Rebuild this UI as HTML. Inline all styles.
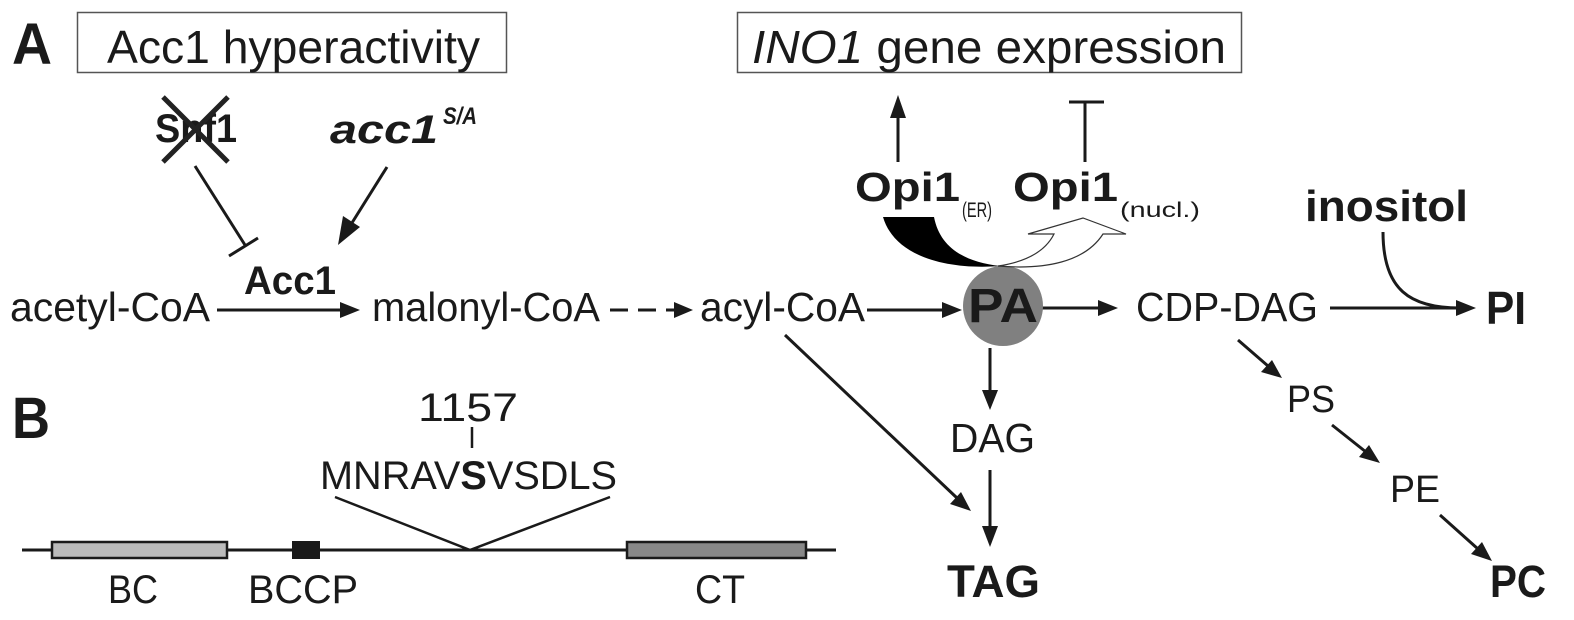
<!DOCTYPE html>
<html><head><meta charset="utf-8"><style>
html,body{margin:0;padding:0;background:#fff;}
svg{display:block;}
text{font-family:"Liberation Sans",Arial,sans-serif;fill:#1a1a1a;}
</style></head><body>
<svg width="1574" height="620" viewBox="0 0 1574 620" xmlns="http://www.w3.org/2000/svg">
<g stroke="#1a1a1a" stroke-width="3" fill="none">
<rect x="77.5" y="12.5" width="429" height="60" stroke="#555" stroke-width="1.5" fill="#fff"/>
<rect x="737.5" y="12.5" width="504" height="60" stroke="#555" stroke-width="1.5" fill="#fff"/>
</g>
<text x="12" y="64" font-size="58" font-weight="bold" textLength="40" lengthAdjust="spacingAndGlyphs">A</text>
<text x="12" y="438" font-size="58" font-weight="bold" textLength="38" lengthAdjust="spacingAndGlyphs">B</text>
<text x="107" y="63" font-size="46" textLength="373" lengthAdjust="spacingAndGlyphs">Acc1 hyperactivity</text>
<text x="752" y="63" font-size="46" textLength="474" lengthAdjust="spacingAndGlyphs"><tspan font-style="italic">INO1</tspan> gene expression</text>

<text x="155" y="142" font-size="40" font-weight="bold" textLength="82" lengthAdjust="spacingAndGlyphs">Snf1</text>
<g stroke="#222" stroke-width="5">
<line x1="163" y1="97" x2="228" y2="162"/><line x1="228" y1="97" x2="163" y2="162"/>
</g>
<text x="330" y="143" font-size="40" font-weight="bold" font-style="italic" textLength="108" lengthAdjust="spacingAndGlyphs">acc1</text>
<text x="443" y="124" font-size="24" font-weight="bold" font-style="italic" textLength="34" lengthAdjust="spacingAndGlyphs">S/A</text>
<g stroke="#1a1a1a" stroke-width="3" fill="#1a1a1a">
<line x1="195" y1="166" x2="245" y2="245" fill="none"/>
<line x1="229" y1="256" x2="258" y2="238"/>
<line x1="387" y1="167" x2="350" y2="226"/>
<polygon points="338,245 343,216 360,227" stroke="none"/>
</g>
<text x="244" y="294" font-size="40" font-weight="bold" textLength="92" lengthAdjust="spacingAndGlyphs">Acc1</text>

<text x="10" y="321" font-size="41" textLength="200" lengthAdjust="spacingAndGlyphs">acetyl-CoA</text>
<text x="372" y="321" font-size="41" textLength="228" lengthAdjust="spacingAndGlyphs">malonyl-CoA</text>
<text x="700" y="321" font-size="41" textLength="165" lengthAdjust="spacingAndGlyphs">acyl-CoA</text>
<text x="1136" y="321" font-size="41" textLength="182" lengthAdjust="spacingAndGlyphs">CDP-DAG</text>
<text x="1486" y="324" font-size="46" font-weight="bold" textLength="40" lengthAdjust="spacingAndGlyphs">PI</text>
<text x="1305" y="221" font-size="44" font-weight="bold" textLength="163" lengthAdjust="spacingAndGlyphs">inositol</text>

<g stroke="#1a1a1a" stroke-width="3" fill="#1a1a1a">
<line x1="217" y1="310" x2="342" y2="310"/><polygon points="360,310 340,302 340,318" stroke="none"/>
<line x1="610" y1="310" x2="675" y2="310" stroke-dasharray="18,10"/><polygon points="693,310 674,302 674,318" stroke="none"/>
<line x1="867" y1="310" x2="944" y2="310"/><polygon points="962,310 942,302 942,318" stroke="none"/>
<line x1="1036" y1="308" x2="1100" y2="308"/><polygon points="1118,308 1098,300 1098,316" stroke="none"/>
<line x1="1330" y1="308" x2="1458" y2="308"/><polygon points="1476,308 1456,300 1456,316" stroke="none"/>
<path d="M1383,232 C1383,290 1410,308 1460,308" fill="none"/>
</g>

<circle cx="1003" cy="306" r="40" fill="#808080"/>
<text x="1003" y="322" font-size="48" font-weight="bold" text-anchor="middle" textLength="70" lengthAdjust="spacingAndGlyphs">PA</text>

<text x="855" y="201" font-size="41" font-weight="bold" textLength="105" lengthAdjust="spacingAndGlyphs">Opi1</text>
<text x="962" y="217" font-size="21" textLength="30" lengthAdjust="spacingAndGlyphs">(ER)</text>
<text x="1013" y="201" font-size="41" font-weight="bold" textLength="105" lengthAdjust="spacingAndGlyphs">Opi1</text>
<text x="1120" y="217" font-size="21" textLength="80" lengthAdjust="spacingAndGlyphs">(nucl.)</text>
<g stroke="#1a1a1a" stroke-width="3" fill="#1a1a1a">
<line x1="898" y1="162" x2="898" y2="116"/><polygon points="898,95 890,118 906,118" stroke="none"/>
<line x1="1085" y1="162" x2="1085" y2="102"/><line x1="1069" y1="102" x2="1104" y2="102"/>
</g>
<path d="M883,217 L934,217 C940,248 965,262 1000,266 C950,270 895,258 883,217 Z" fill="#000"/>
<path d="M998,266 C1025,262 1045,252 1054,234 L1028,234 L1083,218 L1126,234 L1103,234 C1085,262 1045,270 998,266 Z" fill="#fff" stroke="#333" stroke-width="1.2"/>

<text x="950" y="452" font-size="41" textLength="85" lengthAdjust="spacingAndGlyphs">DAG</text>
<text x="947" y="597" font-size="45" font-weight="bold" textLength="93" lengthAdjust="spacingAndGlyphs">TAG</text>
<text x="1287" y="412" font-size="38" textLength="48" lengthAdjust="spacingAndGlyphs">PS</text>
<text x="1390" y="502" font-size="38" textLength="50" lengthAdjust="spacingAndGlyphs">PE</text>
<text x="1490" y="597" font-size="45" font-weight="bold" textLength="56" lengthAdjust="spacingAndGlyphs">PC</text>
<g stroke="#1a1a1a" stroke-width="3" fill="#1a1a1a">
<line x1="990" y1="348" x2="990" y2="392"/><polygon points="990,410 982,390 998,390" stroke="none"/>
<line x1="990" y1="470" x2="990" y2="528"/><polygon points="990,547 982,526 998,526" stroke="none"/>
<line x1="785" y1="335" x2="957" y2="498"/><polygon points="971,511 950,504 961,492" stroke="none"/>
<line x1="1238" y1="340" x2="1268" y2="366"/><polygon points="1282,378 1261,372 1272,360" stroke="none"/>
<line x1="1332" y1="425" x2="1366" y2="452"/><polygon points="1380,463 1359,457 1369,445" stroke="none"/>
<line x1="1440" y1="515" x2="1478" y2="549"/><polygon points="1492,561 1471,554 1482,542" stroke="none"/>
</g>

<text x="418" y="421" font-size="40" textLength="100" lengthAdjust="spacingAndGlyphs">1157</text>
<text x="320" y="489" font-size="40" textLength="297" lengthAdjust="spacingAndGlyphs">MNRAV<tspan font-weight="bold">S</tspan>VSDLS</text>
<g stroke="#1a1a1a" stroke-width="2.5" fill="none">
<line x1="472" y1="427" x2="472" y2="448"/>
<polyline points="335,497 470,550 610,497"/>
<line x1="22" y1="550" x2="836" y2="550" stroke-width="3"/>
</g>
<rect x="52" y="542" width="175" height="16" fill="#bbb" stroke="#1a1a1a" stroke-width="2.5"/>
<rect x="292" y="541" width="28" height="18" fill="#1a1a1a"/>
<rect x="627" y="542" width="179" height="16" fill="#888" stroke="#1a1a1a" stroke-width="2.5"/>
<text x="108" y="603" font-size="40" textLength="50" lengthAdjust="spacingAndGlyphs">BC</text>
<text x="248" y="603" font-size="40" textLength="110" lengthAdjust="spacingAndGlyphs">BCCP</text>
<text x="695" y="603" font-size="40" textLength="50" lengthAdjust="spacingAndGlyphs">CT</text>
</svg>
</body></html>
